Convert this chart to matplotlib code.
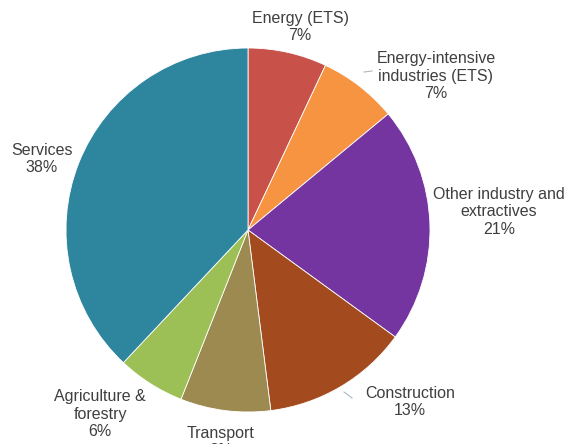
import numpy as np
import matplotlib.pyplot as plt

plt.rcParams['font.family'] = ['Liberation Sans', 'DejaVu Sans']

# sector shares, clockwise from 12 o'clock
sectors = ['Energy (ETS)', 'Energy-intensive\nindustries (ETS)', 'Other industry and\nextractives',
           'Construction', 'Transport', 'Agriculture &\nforestry', 'Services']
shares = [7, 7, 21, 13, 8, 6, 38]
colors = ['#C8514A', '#F69442', '#7435A0', '#A34A1E', '#9C8A50', '#9CC055', '#2E859E']

# label anchor points (pixels from the bottom-left)
label_xy = [(300, 417), (436, 368), (499, 232), (410, 42), (221, 2), (100, 30), (42, 285)]
leaders = {1: ((364, 372), (372, 373)), 3: ((344, 52), (352, 46))}

fig = plt.figure(figsize=(5.71, 4.44), dpi=100)
ax = fig.add_axes([0, 0, 1, 1])

wedges, _ = ax.pie(shares, colors=colors, startangle=90, counterclock=False,
                   center=(248, 214), radius=182,
                   wedgeprops=dict(linewidth=0.6, edgecolor='white'))
ax.set_xlim(0, 571)
ax.set_ylim(0, 444)
ax.set_aspect('equal')
ax.axis('off')

for i, name in enumerate(sectors):
    x, y = label_xy[i]
    ax.text(x, y, f'{name}\n{shares[i]}%', ha='center', va='center',
            fontsize=11.5, color='#3F3F3F', linespacing=1.2)

for i, (p0, p1) in leaders.items():
    ax.plot([p0[0], p1[0]], [p0[1], p1[1]], color='#A9B9C0', lw=0.8)

fig.savefig('out.png', dpi=100)
